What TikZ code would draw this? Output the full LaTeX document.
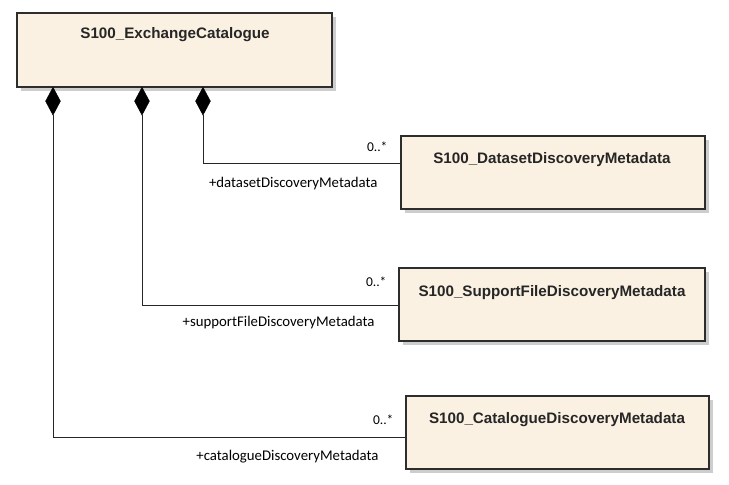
\documentclass[tikz,border=0pt]{standalone}
\usepackage{fontspec}
\setmainfont{Liberation Sans}
\newfontfamily\rolefont{Carlito}
\usetikzlibrary{shapes.geometric}
\definecolor{classfill}{RGB}{251,241,226}
\definecolor{classline}{RGB}{45,45,45}
\definecolor{shadowc}{RGB}{205,205,205}
\begin{document}
\begin{tikzpicture}[x=1pt,y=-1pt,
  classbox/.style={draw=classline, line width=1.3pt, fill=classfill, inner sep=0pt,
    preaction={fill=shadowc, transform canvas={shift={(3.5pt,-3.5pt)}}}},
  classname/.style={font=\fontsize{15.2}{17}\selectfont\bfseries, text=black!85},
  composite/.style={shape=diamond, fill=black, draw=black, line width=0.4pt, inner sep=0pt,
    minimum width=15pt, minimum height=28pt, anchor=north},
  assoc/.style={draw=black!85, line width=0.9pt},
  mult/.style={font=\rolefont\fontsize{13.5}{15}\selectfont, anchor=east},
  role/.style={font=\rolefont\fontsize{14.8}{16}\selectfont, anchor=east}]
\useasboundingbox (0,0) rectangle (729,485);
\fill[white] (0,0) rectangle (729,485);

% classes
\node[classbox, minimum width=315pt, minimum height=74pt] (main) at (174.5,50) {};
\node[classname] (mainT) at (175,35) {S100\_ExchangeCatalogue};

\node[classbox, minimum width=304pt, minimum height=73pt] (ds) at (553,172.5) {};
\node[classname] (dsT) at (552,160) {S100\_DatasetDiscoveryMetadata};

\node[classbox, minimum width=306pt, minimum height=73pt] (sf) at (552,304.5) {};
\node[classname] (sfT) at (552,293) {S100\_SupportFileDiscoveryMetadata};

\node[classbox, minimum width=303pt, minimum height=73pt] (cat) at (557.5,432.5) {};
\node[classname] (catT) at (557,420) {S100\_CatalogueDiscoveryMetadata};

% composition diamonds
\node[composite] (d1) at (53,87) {};
\node[composite] (d2) at (142,87) {};
\node[composite] (d3) at (203,87) {};

% connectors
\draw[assoc] (d3.south) |- ([yshift=9.5pt]ds.west);
\draw[assoc] (d2.south) |- ([yshift=-0.5pt]sf.west);
\draw[assoc] (d1.south) |- ([yshift=-4.5pt]cat.west);

% multiplicities
\node[mult] (m1) at (391,147) {0..*};
\node[mult] (m2) at (390,282) {0..*};
\node[mult] (m3) at (397,420) {0..*};

% roles
\node[role] (r1) at (381,184) {+datasetDiscoveryMetadata};
\node[role] (r2) at (378,323) {+supportFileDiscoveryMetadata};
\node[role] (r3) at (382,457) {+catalogueDiscoveryMetadata};
\end{tikzpicture}
\end{document}
